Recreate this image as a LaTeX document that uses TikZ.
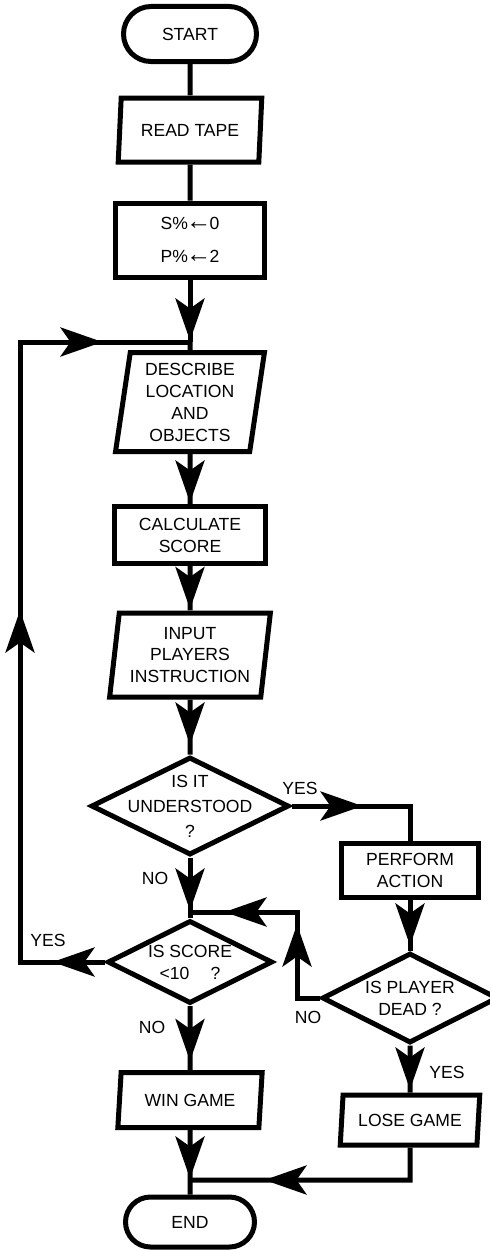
\documentclass[tikz,border=0pt]{standalone}
\usepackage{fontspec}
\setmainfont{Liberation Sans}
\usetikzlibrary{shapes.geometric,shapes.misc,arrows.meta,decorations.markings}

\begin{document}
\begin{tikzpicture}[x=0.2mm,y=-0.2mm,line width=1mm,
	font=\fontsize{10}{12.5}\selectfont]

\tikzset{
	fat/.tip={Stealth[length=8.4mm,width=5.8mm,inset=2mm]},
	flow/.style={postaction={decorate},decoration={markings,
		mark=at position #1 with {\arrow{fat}}}}
}
\tikzstyle{term} = [draw, rounded rectangle, inner sep=0pt];
\tikzstyle{io} = [
	draw, trapezium, trapezium left angle=82, trapezium right angle=98,
	trapezium stretches=true, align=center, inner sep=1pt ];
\tikzstyle{proc} = [draw, rectangle, align=center, inner sep=1pt];
\tikzstyle{test} = [draw, diamond, inner sep=0pt];
\useasboundingbox (0,0) rectangle (490,1250);

\node[term,minimum width=26.6mm,minimum height=11mm] (start) at (190,34) {START};
\node[io,minimum width=28.8mm,minimum height=12.8mm] (read) at (190,130) {READ TAPE};
\node[proc,minimum width=29.8mm,minimum height=14.8mm] (init) at (190,240)
	{S\%{\Large\kern-1pt←\kern-1pt}0\\[6pt]P\%{\Large\kern-1pt←\kern-1pt}2};
\node[io,minimum width=29.8mm,minimum height=19.8mm] (describe) at (190,402)
	{DESCRIBE\\LOCATION\\AND\\OBJECTS};
\node[proc,minimum width=30.2mm,minimum height=11.4mm] (calc) at (190,535) {CALCULATE\\SCORE};
\node[io,minimum width=32.2mm,minimum height=16.8mm] (input) at (190,655)
	{INPUT\\PLAYERS\\INSTRUCTION};
\node[test,minimum width=39.6mm,minimum height=19.6mm,
	label={[align=center]center:IS IT\\[1.7pt]UNDERSTOOD\\[1.7pt]?}] (understood) at (190,806) {};
\node[proc,minimum width=27.4mm,minimum height=10.8mm] (perform) at (410,870) {PERFORM\\ACTION};
\node[test,minimum width=35.2mm,minimum height=18mm,
	label={[align=center]center:IS PLAYER\\DEAD ?}] (dead) at (410,998) {};
\node[test,minimum width=33mm,minimum height=16.6mm,
	label={[align=center]center:IS SCORE\\<10\hspace{1.2em}?}] (score) at (190,962) {};
\node[io,minimum width=29mm,minimum height=11mm] (win) at (190,1100) {WIN GAME};
\node[io,minimum width=28mm,minimum height=10mm] (lose) at (410,1120) {LOSE GAME};
\node[term,minimum width=25.8mm,minimum height=10mm] (stop) at (190,1222) {END};

\coordinate (j1) at (190,342);
\coordinate (j2) at (190,912);
\coordinate (j3) at (190,1180);
\coordinate (lt) at (20,342);
\coordinate (lb) at (20,962);
\coordinate (yr) at (410,806);
\coordinate (nb) at (297,998);
\coordinate (nt) at (297,912);
\coordinate (lc) at (410,1180);

\node (yes1) at (300,788) {YES};
\node (no1) at (155,878) {NO};
\node (yes2) at (48,940) {YES};
\node (no2) at (152,1027) {NO};
\node (no3) at (308,1017) {NO};
\node (yes3) at (447,1072) {YES};

\draw (start) -- (read);
\draw (read) -- (init);
\draw[flow=-0.3mm] (init) -- (j1);
\draw (j1) -- (describe);
\draw[flow=-0.3mm] (describe) -- (calc);
\draw[flow=-0.3mm] (calc) -- (input);
\draw[flow=-2mm] (input) -- (understood);
\draw[flow=14.2mm] (understood.east) -- (yr) -- (perform);
\draw[flow=-0.3mm] (understood) -- (j2);
\draw (j2) -- (score);
\draw[flow=-1mm] (perform) -- (dead);
\draw[postaction={decorate},decoration={markings,
	mark=at position 19.2mm with {\arrow{fat}},
	mark=at position 36.2mm with {\arrow{fat}}}]
	(dead.west) -- (nb) -- (nt) -- (j2);
\draw[postaction={decorate},decoration={markings,
	mark=at position 10.5mm with {\arrow{fat}},
	mark=at position 87.3mm with {\arrow{fat}},
	mark=at position 157.5mm with {\arrow{fat}}}]
	(score.west) -- (lb) -- (lt) -- (j1);
\draw[flow=-1.8mm] (score) -- (win);
\draw[flow=-0.6mm] (dead) -- (lose);
\draw[flow=-0.3mm] (win) -- (j3);
\draw[flow=35.6mm] (lose) -- (lc) -- (j3);
\draw (j3) -- (stop);

\end{tikzpicture}
\end{document}
